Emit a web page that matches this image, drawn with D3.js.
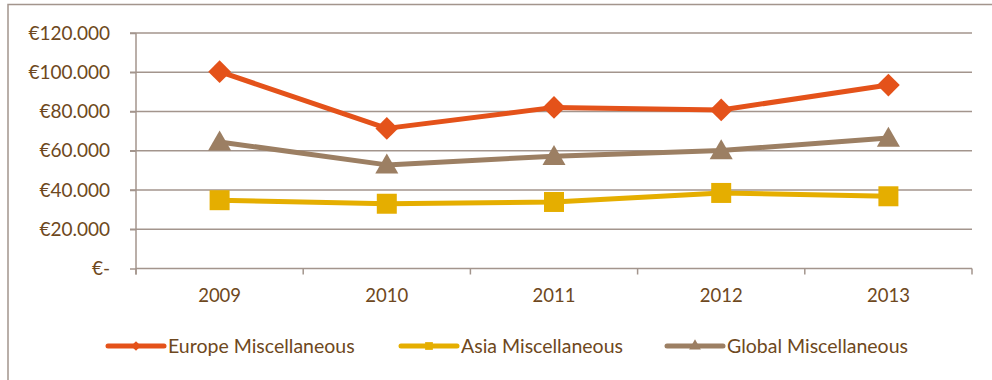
<!DOCTYPE html>
<html>
<head>
<meta charset="utf-8">
<script src="https://cdn.jsdelivr.net/npm/d3@7"></script>
<style>
  html, body { margin: 0; padding: 0; background: #fff; }
  svg { display: block; }
  text { font-family: Lato, "Open Sans", sans-serif; fill: #6E4820; }
</style>
</head>
<body>
<svg id="chart" width="992" height="380"></svg>
<script>
// Yearly totals per region (EUR)
const years = ["2009", "2010", "2011", "2012", "2013"];
const europe = [100300, 71400, 82100, 80800, 93500];
const asia   = [34800, 33000, 33900, 38500, 36800];
const global = [64500, 52800, 57200, 60100, 66500];
const seriesNames = ["Europe Miscellaneous", "Asia Miscellaneous", "Global Miscellaneous"];
const yTicks = [0, 20000, 40000, 60000, 80000, 100000, 120000];

const colors = ["#E4521A", "#E5AE00", "#9C7F63"];
const shapes = [d3.symbolDiamond2, d3.symbolSquare, d3.symbolTriangle];
const gridColor = "#A3958D";

const series = [europe, asia, global].map((vals, i) => ({
  name: seriesNames[i],
  color: colors[i],
  shape: shapes[i],
  values: years.map((y, j) => ({ year: y, value: vals[j] }))
}));

const svg = d3.select("#chart");
const plot = { left: 136, right: 972, top: 33, bottom: 268.5 };

const x = d3.scaleBand().domain(years).range([plot.left, plot.right]);
const y = d3.scaleLinear().domain([0, 120000]).range([plot.bottom, plot.top]);

// outer frame (top and left edges)
svg.append("path")
  .attr("d", "M8,380 V4.5 H992")
  .attr("fill", "none")
  .attr("stroke", gridColor)
  .attr("stroke-width", 1.5);

// horizontal gridlines
svg.append("g")
  .selectAll("line")
  .data(yTicks.filter(t => t > 0))
  .join("line")
  .attr("x1", plot.left - 6)
  .attr("x2", plot.right)
  .attr("y1", d => y(d))
  .attr("y2", d => y(d))
  .attr("stroke", gridColor)
  .attr("stroke-width", 1.5);

// value axis
const fmt = v => v === 0 ? "€-" : "€" + d3.format(",")(v).replace(/,/g, ".");
const yAxis = svg.append("g")
  .attr("transform", `translate(${plot.left},0)`)
  .call(d3.axisLeft(y).tickValues(yTicks).tickFormat(fmt).tickSize(6).tickPadding(20));
yAxis.select(".domain").attr("stroke", gridColor).attr("stroke-width", 1.5)
  .attr("d", `M0,${plot.top}V${plot.bottom + 6}`);
yAxis.selectAll(".tick line").attr("stroke", gridColor).attr("stroke-width", 1.5);
yAxis.selectAll(".tick text").style("font-size", "19px").attr("fill", "#6E4820");

// category axis with ticks at the band boundaries
const xAxis = svg.append("g")
  .attr("transform", `translate(0,${plot.bottom})`)
  .call(d3.axisBottom(x).tickSize(0).tickPadding(20));
xAxis.select(".domain").attr("stroke", gridColor).attr("stroke-width", 1.5)
  .attr("d", `M${plot.left},0H${plot.right}`);
xAxis.selectAll(".tick text").style("font-size", "18.5px").attr("fill", "#6E4820");
const bounds = years.map(d => x(d)).concat([plot.right]);
xAxis.append("g").selectAll("line")
  .data(bounds)
  .join("line")
  .attr("x1", d => d).attr("x2", d => d)
  .attr("y1", 0).attr("y2", 6)
  .attr("stroke", gridColor).attr("stroke-width", 1.5);

// lines and markers
const line = d3.line()
  .x(d => x(d.year) + x.bandwidth() / 2)
  .y(d => y(d.value));

const sg = svg.append("g").selectAll("g").data(series).join("g");
sg.append("path")
  .attr("d", d => line(d.values))
  .attr("fill", "none")
  .attr("stroke", d => d.color)
  .attr("stroke-width", 5)
  .attr("stroke-linejoin", "round");
sg.each(function (s) {
  d3.select(this).selectAll("path.m")
    .data(s.values)
    .join("path")
    .attr("class", "m")
    .attr("transform", d => `translate(${x(d.year) + x.bandwidth() / 2},${y(d.value) + (s.shape === d3.symbolTriangle ? 2 : 0)})`)
    .attr("d", d3.symbol().type(s.shape).size(s.shape === d3.symbolTriangle ? 230 : (s.shape === d3.symbolSquare ? 400 : 330)))
    .attr("fill", s.color);
});

// legend
const legendX = [108, 401, 667];
const lg = svg.append("g").selectAll("g").data(series).join("g")
  .attr("transform", (d, i) => `translate(${legendX[i]},346)`);
lg.append("line")
  .attr("x1", 0).attr("x2", 56)
  .attr("stroke", d => d.color)
  .attr("stroke-width", 5)
  .attr("stroke-linecap", "round");
lg.append("path")
  .attr("transform", "translate(28,0)")
  .attr("d", d => d3.symbol().type(d.shape).size(60)())
  .attr("fill", d => d.color);
lg.append("text")
  .attr("x", 60)
  .attr("dy", "0.35em")
  .style("font-size", "19.5px")
  .text(d => d.name);
</script>
</body>
</html>
